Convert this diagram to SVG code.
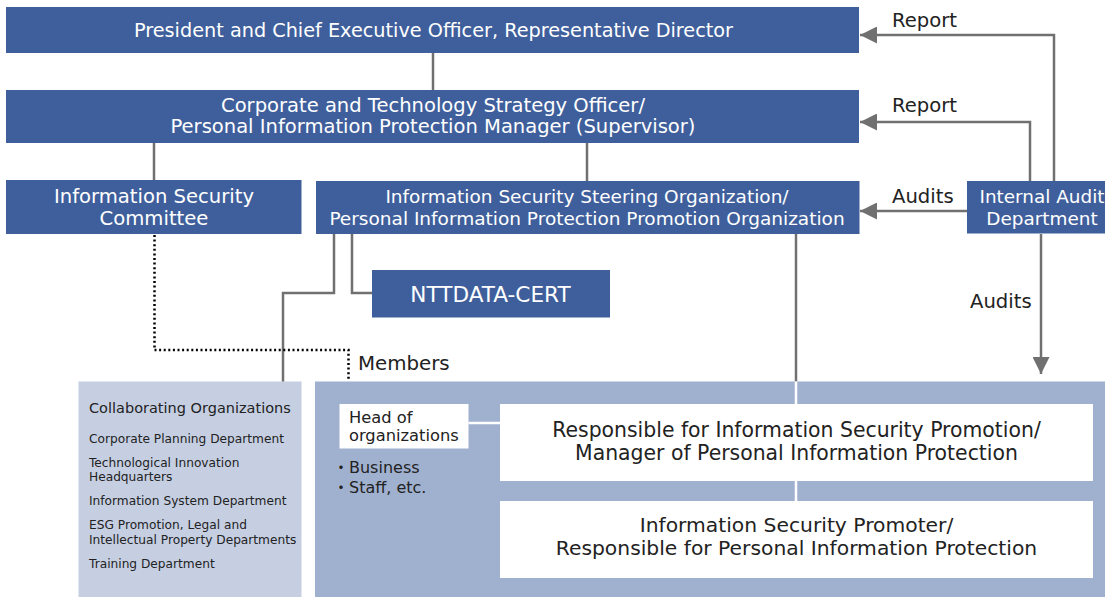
<svg xmlns="http://www.w3.org/2000/svg" width="1105" height="597" viewBox="0 0 1105 597">
<style>
.dk{fill:#3F5F9C}
.wt{font-family:"DejaVu Sans",Verdana,sans-serif;fill:#FFFFFF}
.bk{font-family:"DejaVu Sans",Verdana,"Noto Sans CJK JP",sans-serif;fill:#222222}
.c{text-anchor:middle}
.ln{fill:none;stroke:#707070;stroke-width:2.5}
.wl{fill:none;stroke:#FFFFFF;stroke-width:2.5}
.dot{fill:none;stroke:#000000;stroke-width:2.5;stroke-dasharray:2 2.6}
</style>
<defs>
<marker id="ah" viewBox="0 0 17 17" refX="17" refY="8.5" markerWidth="17" markerHeight="17" markerUnits="userSpaceOnUse" orient="auto">
<path d="M0,0 L17,8.5 L0,17 Z" fill="#707070"/>
</marker>
</defs>
<rect width="1105" height="597" fill="#FFFFFF"/>

<g id="area-members">
<rect x="315" y="381.5" width="790" height="215.5" fill="#A0B1CF"/>
</g>
<g id="collaborating">
<rect x="78.5" y="381.5" width="223" height="215.5" fill="#C6CFE2"/>
<text class="bk" x="89" y="413" font-size="14.5" fill="#333333">Collaborating Organizations</text>
<g font-size="12.2">
<text class="bk" x="89" y="443.3">Corporate Planning Department</text>
<text class="bk" x="89" y="466.7">Technological Innovation</text>
<text class="bk" x="89" y="481">Headquarters</text>
<text class="bk" x="89" y="505">Information System Department</text>
<text class="bk" x="89" y="529.3">ESG Promotion, Legal and</text>
<text class="bk" x="89" y="544">Intellectual Property Departments</text>
<text class="bk" x="89" y="568.3">Training Department</text>
</g>
</g>

<g id="connectors">
<path class="ln" d="M433,53 V90"/>
<path class="ln" d="M154,143 V180"/>
<path class="ln" d="M587,143 V181"/>
<path class="ln" d="M334,234 V293 H283 V381.5"/>
<path class="ln" d="M352,234 V293 H372"/>
<path class="ln" d="M796,234 V381.5"/>
<path class="wl" d="M796,381.5 V404"/>
<path class="wl" d="M796,481 V501"/>
<path class="wl" d="M468.5,423 H500"/>
<path class="ln" d="M1054,181 V35 H860" marker-end="url(#ah)"/>
<path class="ln" d="M1030,181 V122 H860" marker-end="url(#ah)"/>
<path class="ln" d="M967,211 H860" marker-end="url(#ah)"/>
<path class="ln" d="M1041,234 V374" marker-end="url(#ah)"/>
<path class="dot" d="M154.5,235 V350 H348.5 V380"/>
<text class="bk" x="892" y="27" font-size="19.6">Report</text>
<text class="bk" x="892" y="112" font-size="19.6">Report</text>
<text class="bk" x="892" y="203" font-size="19.6">Audits</text>
<text class="bk" x="970" y="308" font-size="19.6">Audits</text>
<text class="bk" x="358" y="370" font-size="19.8">Members</text>
</g>

<g id="president">
<rect class="dk" x="6" y="7" width="853" height="46"/>
<text class="wt c" x="433.5" y="37" font-size="19.25">President and Chief Executive Officer, Representative Director</text>
</g>
<g id="cto">
<rect class="dk" x="6" y="90" width="853" height="53"/>
<text class="wt c" x="433" y="112" font-size="19.55">Corporate and Technology Strategy Officer/</text>
<text class="wt c" x="433" y="133" font-size="19.55">Personal Information Protection Manager (Supervisor)</text>
</g>
<g id="committee">
<rect class="dk" x="6" y="180" width="295.5" height="54"/>
<text class="wt c" x="154" y="203" font-size="19.6">Information Security</text>
<text class="wt c" x="154" y="225" font-size="19.6">Committee</text>
</g>
<g id="steering">
<rect class="dk" x="316" y="181" width="543.5" height="53"/>
<text class="wt c" x="587" y="203" font-size="18.5">Information Security Steering Organization/</text>
<text class="wt c" x="587" y="225" font-size="18.5">Personal Information Protection Promotion Organization</text>
</g>
<g id="audit">
<rect class="dk" x="967" y="181" width="150" height="52.5"/>
<text class="wt c" x="1042" y="203" font-size="18.4">Internal Audit</text>
<text class="wt c" x="1042" y="225" font-size="18.4">Department</text>
</g>
<g id="cert">
<rect class="dk" x="372" y="270" width="238" height="47.5"/>
<text class="wt c" x="490.5" y="302" font-size="21.6">NTTDATA-CERT</text>
</g>
<g id="head">
<rect x="339.5" y="404" width="129" height="44.5" fill="#FFFFFF"/>
<text class="bk" x="349" y="423" font-size="16.3">Head of</text>
<text class="bk" x="349" y="441" font-size="16.3">organizations</text>
<text class="bk" x="333" y="473" font-size="16">・Business</text>
<text class="bk" x="333" y="493" font-size="16">・Staff, etc.</text>
</g>
<g id="responsible">
<rect x="500" y="404" width="593" height="77" fill="#FFFFFF"/>
<text class="bk c" x="796.5" y="437" font-size="20.4">Responsible for Information Security Promotion/</text>
<text class="bk c" x="796.5" y="460" font-size="20.4">Manager of Personal Information Protection</text>
</g>
<g id="promoter">
<rect x="500" y="501" width="593" height="77" fill="#FFFFFF"/>
<text class="bk c" x="796.5" y="532" font-size="20.3">Information Security Promoter/</text>
<text class="bk c" x="796.5" y="555" font-size="20.3">Responsible for Personal Information Protection</text>
</g>
</svg>
